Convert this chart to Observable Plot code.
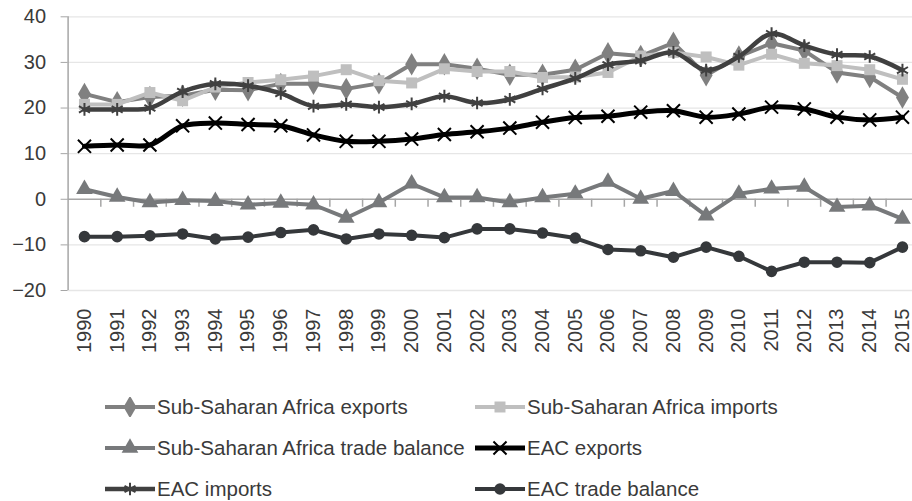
<!DOCTYPE html>
<html>
<head>
<meta charset="utf-8">
<script src="https://cdn.jsdelivr.net/npm/d3@7"></script>
<script src="https://cdn.jsdelivr.net/npm/@observablehq/plot@0.6"></script>
<style>
  html, body { margin: 0; padding: 0; background: #fff; overflow: hidden; }
  body { width: 912px; height: 501px; font-family: "Liberation Sans", Arial, sans-serif; color: #3a3a3a; }
  #legend { display: grid; grid-template-columns: 370px auto; grid-auto-rows: 41px; padding-left: 105px; padding-top: 26px; font-size: 20.5px; }
  .item { display: flex; align-items: center; white-space: nowrap; }
  .item svg { flex: none; margin-right: 1px; }
</style>
</head>
<body>
<div id="chart"></div>
<div id="legend"></div>
<script>
const years = [1990,1991,1992,1993,1994,1995,1996,1997,1998,1999,2000,2001,2002,2003,2004,2005,2006,2007,2008,2009,2010,2011,2012,2013,2014,2015];
const ssaExports = [23.1,21.3,22.4,22.7,24.0,23.9,25.3,25.3,24.2,25.4,29.6,29.6,28.6,27.3,27.3,28.4,32.0,31.4,34.3,27.2,31.3,34.2,32.6,27.8,26.8,22.3];
const ssaImports = [20.8,20.8,23.4,21.6,24.6,25.6,26.2,27.0,28.4,26.0,25.5,28.6,28.0,28.0,26.7,26.8,27.8,31.4,32.2,31.2,29.4,31.8,29.8,29.3,28.4,26.3];
const ssaBalance = [2.2,0.5,-0.7,-0.2,-0.4,-1.2,-0.8,-1.2,-4.1,-0.7,3.4,0.4,0.4,-0.7,0.4,1.2,3.8,0.1,1.8,-3.6,1.2,2.3,2.7,-1.7,-1.4,-4.3];
const eacExports = [11.6,11.9,11.9,16.1,16.7,16.4,16.1,14.1,12.7,12.7,13.2,14.2,14.8,15.6,16.9,17.9,18.2,19.1,19.4,18.0,18.7,20.2,19.8,18.0,17.4,18.0];
const eacImports = [19.7,19.7,20.0,23.6,25.3,24.9,23.2,20.4,20.8,20.2,20.9,22.6,21.1,21.9,24.2,26.5,29.5,30.4,32.2,28.3,31.3,36.3,33.7,31.7,31.3,28.3];
const eacBalance = [-8.2,-8.2,-8.0,-7.6,-8.7,-8.3,-7.3,-6.7,-8.7,-7.6,-7.9,-8.4,-6.5,-6.5,-7.4,-8.5,-11.0,-11.3,-12.7,-10.5,-12.5,-15.8,-13.8,-13.8,-13.9,-10.5];
const yTicks = [-20,-10,0,10,20,30,40];

const series = [
  {name: "Sub-Saharan Africa exports", values: ssaExports, color: "#808080", symbol: "diamond", filled: true, r: 6.8, width: 4, curve: "linear"},
  {name: "Sub-Saharan Africa imports", values: ssaImports, color: "#bfbfbf", symbol: "square", filled: true, r: 6.2, width: 4, curve: "linear"},
  {name: "Sub-Saharan Africa trade balance", values: ssaBalance, color: "#77797b", symbol: "triangle", filled: true, r: 6.2, width: 4, curve: "linear"},
  {name: "EAC exports", values: eacExports, color: "#000000", symbol: "times", filled: false, r: 6, width: 5, curve: "catmull-rom"},
  {name: "EAC imports", values: eacImports, color: "#404040", symbol: "asterisk", filled: false, r: 6, width: 4.5, curve: "catmull-rom"},
  {name: "EAC trade balance", values: eacBalance, color: "#35383b", symbol: "circle", filled: true, r: 5.8, width: 4, curve: "linear"}
];

const rows = series.map(s => years.map((year, i) => ({series: s.name, year, value: s.values[i]})));
const boundaries = years.slice(0, -1).map(y => y + 0.5);

const marks = [
  Plot.gridY(yTicks.filter(t => t !== 0), {stroke: "#e6e6e6", strokeOpacity: 1, strokeWidth: 1.3}),
  Plot.ruleY([0], {stroke: "#a6a6a6", strokeWidth: 1.5}),
  Plot.ruleX(boundaries, {x: d => d, y1: 0, y2: 0, insetBottom: -8, stroke: "#a6a6a6", strokeWidth: 1.5}),
  Plot.ruleX([years[0] - 0.5], {stroke: "#a6a6a6", strokeWidth: 1.5}),
  Plot.axisY({ticks: yTicks, label: null, tickSize: 7, tickPadding: 15, stroke: "#a6a6a6", fill: "#3a3a3a", fontSize: 20}),
  Plot.axisX({ticks: years, label: null, tickFormat: d => String(d), tickSize: 0, tickPadding: 18, tickRotate: -90, fill: "#3a3a3a", fontSize: 20})
];
series.forEach((s, k) => {
  marks.push(Plot.line(rows[k], {x: "year", y: "value", stroke: s.color, strokeWidth: s.width, curve: s.curve, strokeLinejoin: "round"}));
  marks.push(Plot.dot(rows[k], {x: "year", y: "value", symbol: () => s.symbol, r: s.r,
    fill: s.filled ? s.color : "none", stroke: s.filled ? "none" : s.color, strokeWidth: s.filled ? 0 : 2}));
});

const chart = Plot.plot({
  width: 912,
  height: 360,
  marginLeft: 67.6,
  marginRight: 0,
  marginTop: 16.3,
  marginBottom: 70,
  style: {fontFamily: "'Liberation Sans', Arial, sans-serif", fontSize: "20px", color: "#3a3a3a", background: "#fff", overflow: "visible"},
  x: {type: "linear", domain: [years[0] - 0.5, years[0] - 0.5 + (912 - 67.6) / 32.72], axis: null},
  y: {domain: [-20, 40], axis: null},
  symbol: {type: "identity"},
  marks
});
document.getElementById("chart").appendChild(chart);

// Legend
const legend = d3.select("#legend");
const symMap = {diamond: d3.symbolDiamond, square: d3.symbolSquare, triangle: d3.symbolTriangle, times: d3.symbolTimes, asterisk: d3.symbolAsterisk, circle: d3.symbolCircle};
series.forEach(s => {
  const item = legend.append("div").attr("class", "item");
  const svg = item.append("svg").attr("width", 51).attr("height", 20);
  svg.append("line").attr("x1", 0).attr("x2", 50).attr("y1", 10).attr("y2", 10)
    .attr("stroke", s.color).attr("stroke-width", s.width);
  svg.append("path").attr("transform", "translate(25,10)")
    .attr("d", d3.symbol(symMap[s.symbol], Math.PI * s.r * s.r)())
    .attr("fill", s.filled ? s.color : "none")
    .attr("stroke", s.filled ? "none" : s.color)
    .attr("stroke-width", s.filled ? 0 : 2);
  item.append("span").text(s.name);
});
</script>
</body>
</html>
